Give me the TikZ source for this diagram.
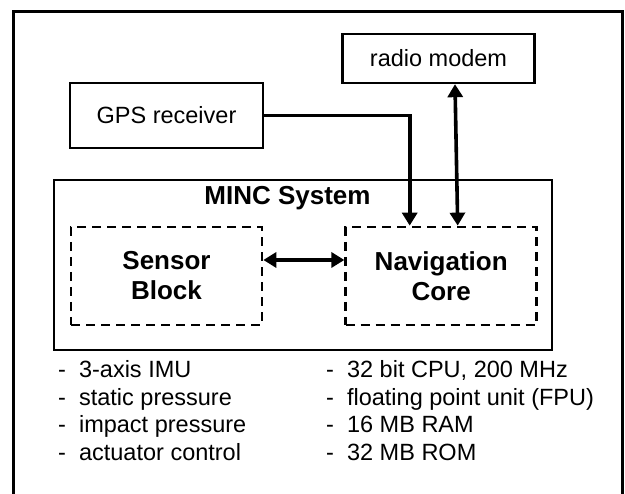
\documentclass[tikz,border=0pt]{standalone}
\usepackage{fontspec}
\setmainfont{Liberation Sans}
\usetikzlibrary{arrows.meta,positioning}
\tikzstyle{unit} = [rectangle, draw, line width=2.4pt, align=center, inner sep=0pt,
    font=\fontsize{23.5}{27.5}\selectfont]
\tikzstyle{part} = [rectangle, draw, line width=2.7pt, dash pattern=on 9pt off 6pt,
    align=center, inner sep=0pt, font=\fontsize{26}{30}\selectfont\bfseries]
\tikzstyle{item} = [anchor=base west, inner sep=0pt, font=\fontsize{23.5}{27.5}\selectfont]
\tikzstyle{link} = [line width=3.6pt, -{Triangle[length=13pt,width=15pt]}]
\tikzstyle{dlink} = [line width=3.6pt,
    {Triangle[length=13pt,width=15pt]}-{Triangle[length=13pt,width=15pt]}]

\begin{document}
\begin{tikzpicture}[x=1pt,y=1pt]
  \useasboundingbox (0,0) rectangle (625,494);

  % outer frame, open at the bottom
  \draw[line width=3pt] (13,-3) -- (13,482) -- (622,482) -- (622,-3);

  \node[unit, minimum width=192pt, minimum height=49pt] (radio)  at (438.5,435.5) {radio modem};
  \node[unit, minimum width=193pt, minimum height=65pt] (gps)    at (166.5,378.5) {GPS receiver};
  \node[unit, minimum width=498pt, minimum height=170pt] (minc)  at (303,229)     {};
  \node[anchor=base, inner sep=0pt, font=\fontsize{26}{30}\selectfont\bfseries]
                                                         (title)  at (287.5,289)   {MINC System};
  \node[part, minimum width=191pt, minimum height=98pt] (sensor) at (166.5,218)   {Sensor\\Block};
  \node[part, minimum width=191pt, minimum height=98pt] (nav)    [right=81pt of sensor] {Navigation\\Core};

  \draw[link]  (gps.east) -| ([xshift=-31.5pt]nav.north);
  \draw[dlink] ([xshift=16.5pt]radio.south) -- ([xshift=16.5pt]nav.north);
  \draw[dlink] ([yshift=16pt]sensor.east) -- ([yshift=16pt]nav.west);

  % feature lists
  \node[item] (s1) at (58,116)  {-\ \ 3-axis IMU};
  \node[item] (s2) at (58,88.5) {-\ \ static pressure};
  \node[item] (s3) at (58,61)   {-\ \ impact pressure};
  \node[item] (s4) at (58,33.5) {-\ \ actuator control};
  \node[item] (c1) at (326,116)  {-\ \ 32 bit CPU, 200 MHz};
  \node[item] (c2) at (326,88.5) {-\ \ floating point unit (FPU)};
  \node[item] (c3) at (326,61)   {-\ \ 16 MB RAM};
  \node[item] (c4) at (326,33.5) {-\ \ 32 MB ROM};
\end{tikzpicture}
\end{document}
